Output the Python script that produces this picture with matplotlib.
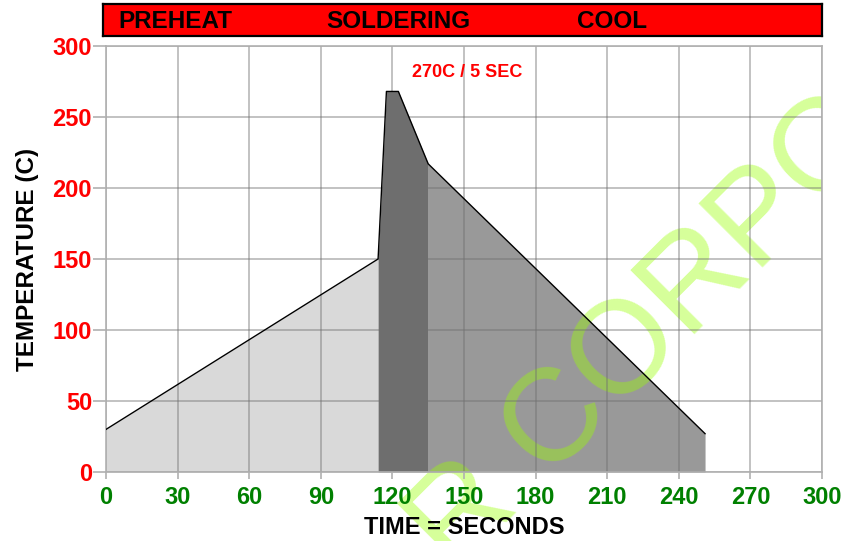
import matplotlib
matplotlib.use('Agg')
import numpy as np
import matplotlib.pyplot as plt
from matplotlib.transforms import Bbox, TransformedBbox

# reflow profile
time_s = [0, 114, 117.5, 122.5, 135, 251]
temp_c = [30, 150, 268, 268, 217, 27]
phase_names = ['PREHEAT', 'SOLDERING', 'COOL']
phase_ends = [114, 135, 251]
phase_colors = ['#d9d9d9', '#6e6e6e', '#999999']
x_ticks = list(range(0, 301, 30))
y_ticks = list(range(0, 301, 50))
peak_note = '270C / 5 SEC'
peak_note_at = (151.5, 281)
watermark = 'R CORPORATION'

W, H = 842, 541

plt.rcParams['font.family'] = ['Liberation Sans', 'DejaVu Sans']

fig = plt.figure(figsize=(W / 100, H / 100), dpi=100)
ax = fig.add_axes([106 / W, 1 - 472 / H, 716 / W, 426 / H])

t = np.array(time_s, dtype=float)
y = np.array(temp_c, dtype=float)
start = 0
for end, col in zip(phase_ends, phase_colors):
    m = (t >= start) & (t <= end)
    ax.fill_between(t[m], y[m], color=col, lw=0, zorder=1)
    start = end
ax.plot(t, y, color='black', lw=1.0, zorder=3)

ax.set_xlim(0, 300)
ax.set_ylim(0, 300)
ax.set_xticks(x_ticks)
ax.set_yticks(y_ticks)
ax.set_xticklabels([str(v) for v in x_ticks], color='#008000', fontsize=17, fontweight='bold')
ax.set_yticklabels([str(v) for v in y_ticks], color='#ff0000', fontsize=17, fontweight='bold')
ax.tick_params(axis='y', length=9.5, width=1.2, color='#b0b0b0', pad=0.5)
ax.tick_params(axis='x', length=5, width=1.2, color='#b0b0b0', pad=5)
ax.grid(True, color='#707070', alpha=0.5, lw=1.2)
for s in ax.spines.values():
    s.set_color('#b0b0b0')
    s.set_linewidth(1.2)
ax.xaxis.set_zorder(2)
ax.yaxis.set_zorder(2)

ax.set_xlabel('TIME = SECONDS', fontsize=17, fontweight='bold', labelpad=5)
ax.set_ylabel('TEMPERATURE (C)', fontsize=17.5, fontweight='bold', labelpad=10)

ax.text(peak_note_at[0], peak_note_at[1], peak_note, color='#ff0000', fontsize=13,
        fontweight='bold', ha='center', va='center', zorder=4)

# watermark sits above the fills but under the text, cut at the plot's right edge
wm = ax.text(454 / W, 1 - 575 / H, watermark, transform=fig.transFigure, rotation=45,
             rotation_mode='anchor', ha='left', va='baseline', fontsize=95,
             color='#99ff00', alpha=0.4, zorder=1.5)
wm.set_clip_box(TransformedBbox(Bbox([[0, 0], [822 / W, 1]]), fig.transFigure))
wm.set_clip_on(True)

# phase header bar
hx = fig.add_axes([103 / W, 1 - 36 / H, 719 / W, 32 / H])
hx.set_facecolor('#ff0000')
hx.set_xticks([])
hx.set_yticks([])
for s in hx.spines.values():
    s.set_color('black')
    s.set_linewidth(1.6)
for name, xc in zip(phase_names, [72.5, 295.5, 508.5]):
    hx.text(xc / 719, 0.45, name, transform=hx.transAxes, fontsize=17.5, fontweight='bold',
            ha='center', va='center', color='black')

fig.savefig('out.png', dpi=100)
